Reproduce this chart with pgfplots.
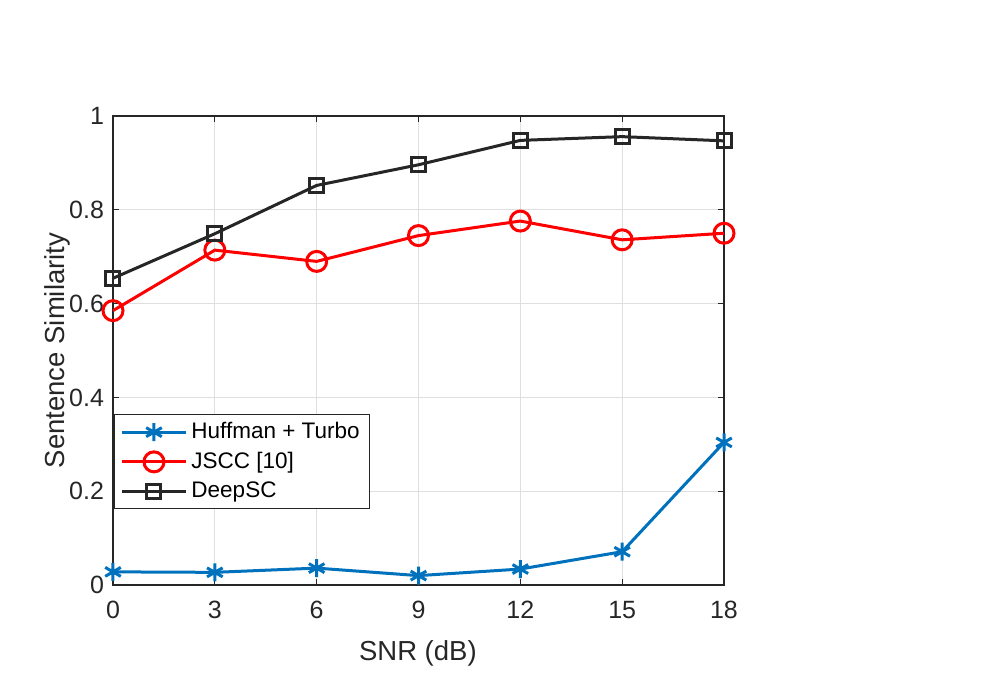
\documentclass[border=0pt]{standalone}
\usepackage{pgfplots}
\pgfplotsset{compat=1.18}
\usepackage{fontspec}
\setmainfont{Liberation Sans}
\definecolor{mblue}{RGB}{0,114,189}
\definecolor{mred}{RGB}{255,0,0}
\definecolor{mblack}{RGB}{38,38,38}
\definecolor{mgrid}{RGB}{223,223,223}
\begin{document}
\begin{tikzpicture}
\useasboundingbox (0,0) rectangle (498.5pt,338pt);
\begin{axis}[
  at={(56.5pt,45.5pt)}, anchor=south west,
  scale only axis, width=305.5pt, height=234.5pt,
  xmin=0, xmax=18, ymin=0, ymax=1,
  xtick={0,3,6,9,12,15,18},
  ytick={0,0.2,0.4,0.6,0.8,1},
  /pgf/number format/assume math mode=true,
  tick label style={font=\fontsize{12.5}{14}\selectfont, text=mblack},
  xticklabel style={yshift=-4.5pt},
  yticklabel style={xshift=-1pt},
  axis line style={mblack, line width=0.6pt},
  major tick style={mblack, line width=0.6pt},
  major tick length=3pt,
  tick align=inside,
  grid=major,
  grid style={mgrid, line width=0.5pt},
  xlabel={SNR (dB)},
  ylabel={Sentence Similarity},
  every axis x label/.style={at={(axis description cs:0.499,-0.145)}, anchor=center,
    font=\fontsize{13.75}{16}\selectfont, text=mblack},
  every axis y label/.style={at={(axis description cs:-0.0917,0.5)}, rotate=90, anchor=center,
    font=\fontsize{13.75}{16}\selectfont, text=mblack},
  legend style={at={(axis description cs:0.0016,0.3646)}, anchor=north west,
    draw=mblack, line width=0.5pt, fill=white, font=\fontsize{11.25}{13}\selectfont,
    cells={anchor=west}, inner xsep=3pt, inner ysep=2pt, row sep=1.2pt},
  legend image code/.code={\draw[mark repeat=2,mark phase=2] plot coordinates {(0pt,0pt) (16pt,0pt) (32pt,0pt)};},
]
\addplot[mblue, line width=1.5pt, mark=asterisk, mark size=4.5pt, mark options={line width=1.5pt}]
  coordinates {(0,0.028) (3,0.027) (6,0.036) (9,0.020) (12,0.034) (15,0.071) (18,0.304)};
\addlegendentry{Huffman + Turbo}
\addplot[mred, line width=1.5pt, mark=o, mark size=5pt, mark options={line width=1.5pt}]
  coordinates {(0,0.585) (3,0.714) (6,0.690) (9,0.745) (12,0.776) (15,0.736) (18,0.750)};
\addlegendentry{JSCC [10]}
\addplot[mblack, line width=1.5pt, mark=square, mark size=3.5pt, mark options={line width=1.5pt}]
  coordinates {(0,0.654) (3,0.749) (6,0.852) (9,0.896) (12,0.948) (15,0.956) (18,0.947)};
\addlegendentry{DeepSC}
\end{axis}
\end{tikzpicture}
\end{document}
